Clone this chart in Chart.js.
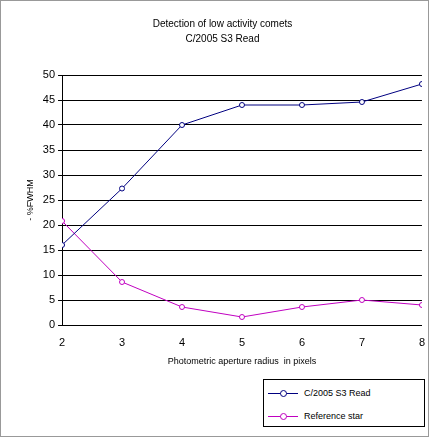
<!DOCTYPE html>
<html>
<head>
<script src="https://cdn.jsdelivr.net/npm/chart.js@4"></script>
<style>
  body { margin: 0; background: #fff; }
  #wrap { position: relative; width: 427px; height: 435px; border: 1px solid #999; }
  #legend { position: absolute; left: 262px; top: 378px; width: 160px; height: 46px; border: 1px solid #000;
    font: 9px Arial, "Liberation Sans", sans-serif; background: #fff; }
  .row { display: flex; align-items: center; height: 20px; margin-top: 3px; }
  .sw { position: relative; width: 30px; height: 1px; margin: 0 6px 0 4px; }
  .sw i { position: absolute; left: 12px; top: -3px; width: 5px; height: 5px; border: 1px solid #000; border-radius: 50%; background: #fff; }
</style>
</head>
<body>
<div id="wrap">
  <canvas id="chart" width="427" height="435"></canvas>
  <div id="legend">
    <div class="row"><span class="sw" style="background:#000080"><i style="border-color:#000080"></i></span>C/2005 S3 Read</div>
    <div class="row"><span class="sw" style="background:#c000c0"><i style="border-color:#c000c0"></i></span>Reference star</div>
  </div>
</div>
<script>
var radii = [2, 3, 4, 5, 6, 7, 8];
var cometValues = [16, 27.3, 40, 44, 44, 44.6, 48.2];
var starValues = [20.8, 8.6, 3.6, 1.6, 3.6, 5, 4];

function pts(v) { return radii.map(function (x, i) { return { x: x, y: v[i] }; }); }

Chart.defaults.font.family = 'Arial, "Liberation Sans", sans-serif';
Chart.defaults.font.size = 11;
Chart.defaults.color = '#000';

new Chart(document.getElementById('chart').getContext('2d'), {
  type: 'line',
  data: {
    datasets: [{
      label: 'C/2005 S3 Read', data: pts(cometValues),
      borderColor: '#000080', borderWidth: 1, pointRadius: 2.5,
      pointBackgroundColor: '#fff', pointBorderColor: '#000080', pointBorderWidth: 1
    }, {
      label: 'Reference star', data: pts(starValues),
      borderColor: '#c000c0', borderWidth: 1, pointRadius: 2.5,
      pointBackgroundColor: '#fff', pointBorderColor: '#c000c0', pointBorderWidth: 1
    }]
  },
  options: {
    responsive: false, animation: false,
    layout: { padding: { top: 12, right: 4, bottom: 65, left: 20 } },
    plugins: {
      legend: { display: false },
      title: { display: true, text: ['Detection of low activity comets', 'C/2005 S3 Read'],
        font: { size: 10, weight: 'normal', lineHeight: 1.5 }, padding: { top: 4, bottom: 28 } }
    },
    scales: {
      x: { type: 'linear', min: 2, max: 8,
        ticks: { stepSize: 1 }, grid: { display: false, drawTicks: true },
        border: { color: '#000' },
        title: { display: true, text: 'Photometric aperture radius  in pixels', font: { size: 9 } } },
      y: { min: 0, max: 50, ticks: { stepSize: 5 },
        grid: { color: '#000', tickLength: 4 }, border: { color: '#000' },
        title: { display: true, text: '- %FWHM', font: { size: 9 } } }
    }
  }
});
</script>
</body>
</html>
